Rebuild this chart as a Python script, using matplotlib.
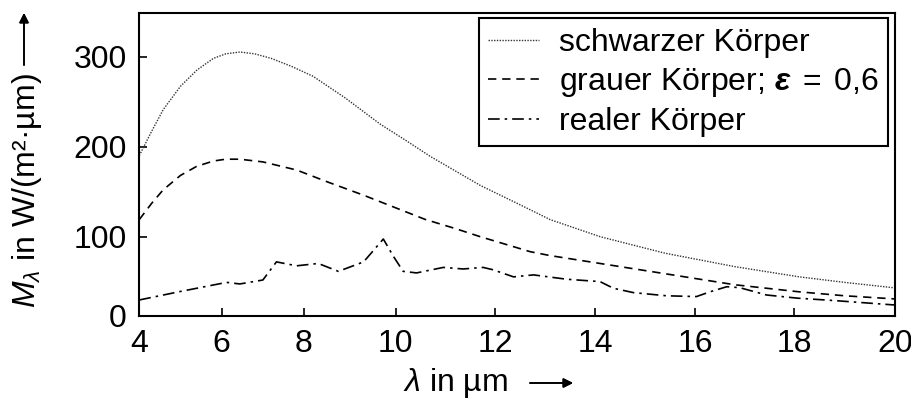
import numpy as np
import matplotlib
matplotlib.use("Agg")
import matplotlib.pyplot as plt

plt.rcParams['font.family'] = ['Liberation Sans', 'DejaVu Sans']
plt.rcParams['mathtext.fontset'] = 'custom'
plt.rcParams['mathtext.rm'] = 'Liberation Sans'
plt.rcParams['mathtext.it'] = 'Liberation Sans:italic'
plt.rcParams['mathtext.bf'] = 'Liberation Sans:italic:bold'

# values (lambda in um, M in W/(m2 um))
lam_black = [4.0, 4.3, 4.58, 5.0, 5.4, 5.8, 6.1, 6.44, 6.8, 7.2, 7.7, 8.2, 8.55, 8.9,
             9.66, 10.2, 10.7, 11.7, 12.7, 13.1, 14.1, 15.4, 16.8, 18.1, 19.0, 20.0]
m_black = [190, 217, 241, 267, 285, 298, 303, 305, 303, 298, 289, 278, 266, 254,
           225, 207, 189, 157, 130, 119, 100, 79, 62, 49, 42, 35]

lam_grey = [4.0, 4.3, 4.58, 5.0, 5.39, 5.8, 6.1, 6.44, 7.0, 7.82, 8.5, 9.3,
            10.0, 10.6, 11.2, 11.7, 12.7, 13.1, 14.1, 15.4, 16.8, 18.1, 19.0, 20.0]
m_grey = [119, 137, 152, 168, 178, 184, 186, 186, 183, 174, 161, 146,
          132, 119, 109, 100, 81, 76, 66, 53, 39, 30, 25, 21]

lam_real = [4.0, 5.0, 6.12, 6.44, 7.0, 7.33, 7.82, 8.31, 8.75, 9.3, 9.73, 9.95,
            10.15, 10.42, 10.96, 11.36, 11.76, 11.96, 12.37, 12.77, 13.43, 14.1,
            14.37, 14.77, 15.43, 16.03, 16.3, 16.64, 16.9, 17.44, 18.06, 18.78, 20.0]
m_real = [19.7, 30.5, 42, 40, 45, 68, 63, 66, 56, 68, 97, 75,
          56, 54, 61, 59, 61, 58, 49, 51.5, 46, 43,
          34.5, 29, 25, 24, 30, 36.5, 35.3, 26, 22, 19, 13.3]

x_ticks = [4, 6, 8, 10, 12, 14, 16, 18, 20]
y_ticks = [0, 100, 200, 300]

# the original axes are not evenly spaced; map tick values to their drawn positions
x_pos = [139.3, 221.7, 304, 395.7, 495, 595, 695, 794.3, 895]
y_pos = [0, 78.8, 168.8, 258.8]


def make_scale(vals, pos):
    v = np.array(vals, float)
    p = np.array(pos, float)
    s0 = (p[1] - p[0]) / (v[1] - v[0])
    s1 = (p[-1] - p[-2]) / (v[-1] - v[-2])
    v = np.concatenate([[v[0] - 1e4], v, [v[-1] + 1e4]])
    p = np.concatenate([[p[0] - 1e4 * s0], p, [p[-1] + 1e4 * s1]])
    fwd = lambda a: np.interp(a, v, p)
    inv = lambda a: np.interp(a, p, v)
    return fwd, inv


fig = plt.figure(figsize=(9.12, 4.0), dpi=100)
ax = fig.add_axes([139.3 / 912, 1 - 315.5 / 400, (895 - 139.3) / 912, (315.5 - 13.3) / 400])
ax.set_xscale('function', functions=make_scale(x_ticks, x_pos))
ax.set_yscale('function', functions=make_scale(y_ticks, y_pos))

ax.plot(lam_black, m_black, color='#333333', lw=1.0, linestyle=(0, (1, 1)),
        label='schwarzer Körper')
ax.plot(lam_grey, m_grey, color='black', lw=1.2, linestyle=(0, (5, 3.5)),
        label=r'grauer Körper; $\mathbf{ε}\;=\;$0,6')
ax.plot(lam_real, m_real, color='black', lw=1.2, linestyle=(0, (7, 3, 1.5, 3)),
        label='realer Körper')

ax.set_xlim(4, 20)
ax.set_ylim(0, 348)
ax.set_xticks(x_ticks)
ax.set_yticks(y_ticks)
ax.tick_params(direction='in', length=6, width=1.2, labelsize=23)
ax.tick_params(axis='y', pad=9)
ax.tick_params(axis='x', pad=10)
for s in ax.spines.values():
    s.set_linewidth(1.5)

leg = ax.legend(loc='upper right', bbox_to_anchor=(1 - 7 / 756, 1 - 5 / 302), fontsize=23,
                frameon=True, fancybox=False, edgecolor='black', framealpha=1,
                handlelength=1.6, handletextpad=0.6, labelspacing=0.25,
                borderpad=0.3, borderaxespad=0)
leg.get_frame().set_linewidth(1.5)

fig.text(27 / 912, 1 - 191 / 400, r'$M_\lambda$ in W/(m²·µm)', rotation=90,
         ha='center', va='center', fontsize=23)
fig.text(455 / 912, 1 - 383 / 400, r'$\lambda$ in µm', ha='center', va='center', fontsize=23)
fig.add_artist(plt.annotate('', xy=(573 / 912, 1 - 383 / 400), xytext=(530 / 912, 1 - 383 / 400),
                            xycoords='figure fraction',
                            arrowprops=dict(arrowstyle='-|>', color='black', lw=1.2,
                                            mutation_scale=14, shrinkA=0, shrinkB=0)))
fig.add_artist(plt.annotate('', xy=(24 / 912, 1 - 13 / 400), xytext=(24 / 912, 1 - 65 / 400),
                            xycoords='figure fraction',
                            arrowprops=dict(arrowstyle='-|>', color='black', lw=1.2,
                                            mutation_scale=14, shrinkA=0, shrinkB=0)))

fig.savefig('out.png', dpi=100)
